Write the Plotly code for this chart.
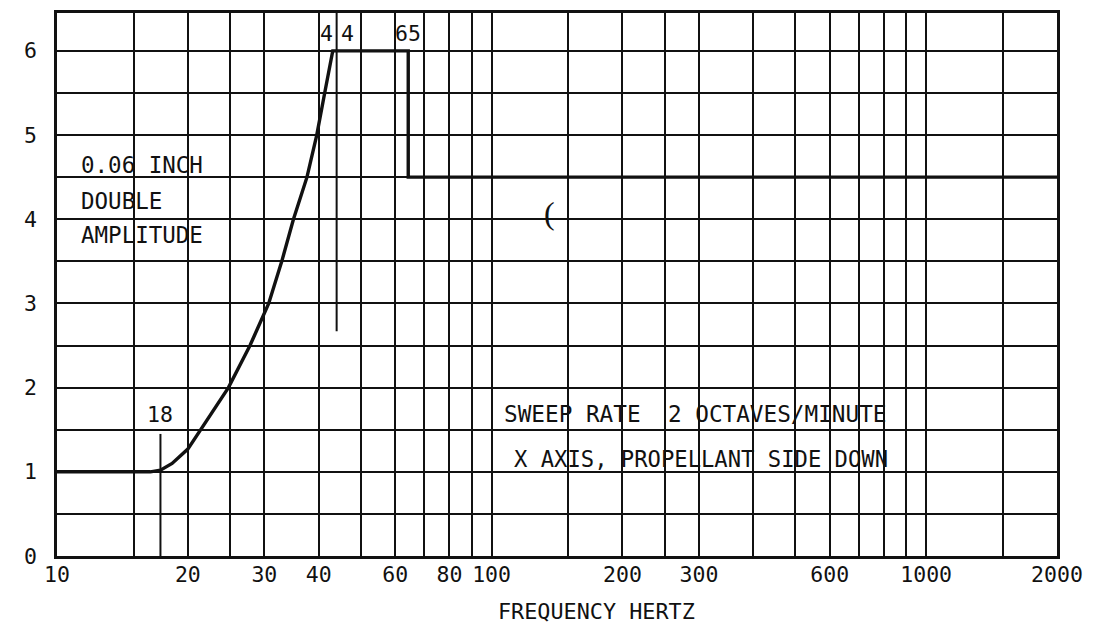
import math
import plotly.graph_objects as go

# ---- data ----
freq_hz = [10, 16.4, 17.3, 18.4, 20.0, 21.4, 23.0, 24.8, 27.8, 30.7, 32.9,
           35.0, 37.6, 39.6, 41.3, 43.1, 64.3, 64.3, 2000]
amplitude = [1.0, 1.0, 1.02, 1.1, 1.27, 1.5, 1.74, 2.0, 2.5, 3.0, 3.5,
             4.0, 4.5, 5.0, 5.5, 6.0, 6.0, 4.5, 4.5]

# marker (reference) lines and their labels
marker_freq = [17.3, 44.0]
marker_y0 = [0.0, 2.67]
marker_y1 = [1.45, 6.45]

x_tick_vals = [10, 20, 30, 40, 60, 80, 100, 200, 300, 600, 1000, 2000]
x_tick_text = ["10", "20", "30", "40", "60", "80", "100", "200", "300", "600", "1000", "2000"]
y_tick_vals = [0, 1, 2, 3, 4, 5, 6]

# graph-paper rulings
grid_freq = [15, 20, 25, 30, 40, 50, 60, 70, 80, 90, 100, 150, 200, 250,
             300, 400, 500, 600, 700, 800, 900, 1000, 1500]
grid_amp = [0.5 * i for i in range(1, 13)]

MONO = "DejaVu Sans Mono"
INK = "#111111"

fig = go.Figure()

fig.add_trace(go.Scatter(x=freq_hz, y=amplitude, mode="lines",
                         line=dict(color=INK, width=3.4), showlegend=False,
                         hoverinfo="skip"))

for f, a0, a1 in zip(marker_freq, marker_y0, marker_y1):
    fig.add_trace(go.Scatter(x=[f, f], y=[a0, a1], mode="lines",
                             line=dict(color=INK, width=2), showlegend=False,
                             hoverinfo="skip"))

fig.update_layout(
    width=1085, height=620, autosize=False,
    margin=dict(l=49, r=36, t=2, b=72),
    paper_bgcolor="white", plot_bgcolor="white",
    font=dict(family=MONO, color=INK, size=21),
    showlegend=False,
)

fig.update_xaxes(
    type="log", range=[math.log10(10), math.log10(2000)],
    tickmode="array", tickvals=x_tick_vals, ticktext=x_tick_text,
    showgrid=False, ticks="", ticklabelstandoff=-3,
    tickfont=dict(family=MONO, size=21.5, color=INK),
    showline=True, mirror=True, linecolor=INK, linewidth=2.5,
    zeroline=False,
    minor=dict(tickmode="array", tickvals=grid_freq, showgrid=True,
               gridcolor=INK, gridwidth=1.8, ticks=""),
)
fig.update_yaxes(
    range=[0, 6.45],
    tickmode="array", tickvals=y_tick_vals,
    showgrid=False, ticks="", ticklabelstandoff=13,
    tickfont=dict(family=MONO, size=21.5, color=INK),
    showline=True, mirror=True, linecolor=INK, linewidth=2.5,
    zeroline=False,
    minor=dict(tickmode="array", tickvals=grid_amp, showgrid=True,
               gridcolor=INK, gridwidth=1.8, ticks=""),
)

def note(text, x, y, xanchor="left", size=22.5, xref="paper", yref="paper",
         family=MONO, xshift=0):
    fig.add_annotation(text=text, x=x, y=y, xref=xref, yref=yref,
                       xanchor=xanchor, yanchor="middle", showarrow=False,
                       xshift=xshift,
                       font=dict(family=family, size=size, color=INK))

note("0.06 INCH", 0.0222, 0.7192)
note("DOUBLE", 0.0222, 0.6538)
note("AMPLITUDE", 0.0222, 0.591)
note("SWEEP RATE  2 OCTAVES/MINUTE", 0.4448, 0.2613, size=22.7)
note("X AXIS, PROPELLANT SIDE DOWN", 0.4552, 0.1795, size=22.2)
note("18", math.log10(marker_freq[0]), 0.26, xanchor="center", xref="x", size=21.5)
note("4", math.log10(marker_freq[1]), 0.962, xanchor="right", xref="x", size=21.5, xshift=-2)
note("4", math.log10(marker_freq[1]), 0.962, xanchor="left", xref="x", size=21.5, xshift=2)
note("65", math.log10(freq_hz[-3]), 0.962, xanchor="center", xref="x", size=21.5)
note("FREQUENCY HERTZ", 0.5395, -0.1026, xanchor="center", size=21.8)
note("(", 0.492, 0.632, xanchor="center", size=32, family="Liberation Serif")

fig.write_html("out.html")
